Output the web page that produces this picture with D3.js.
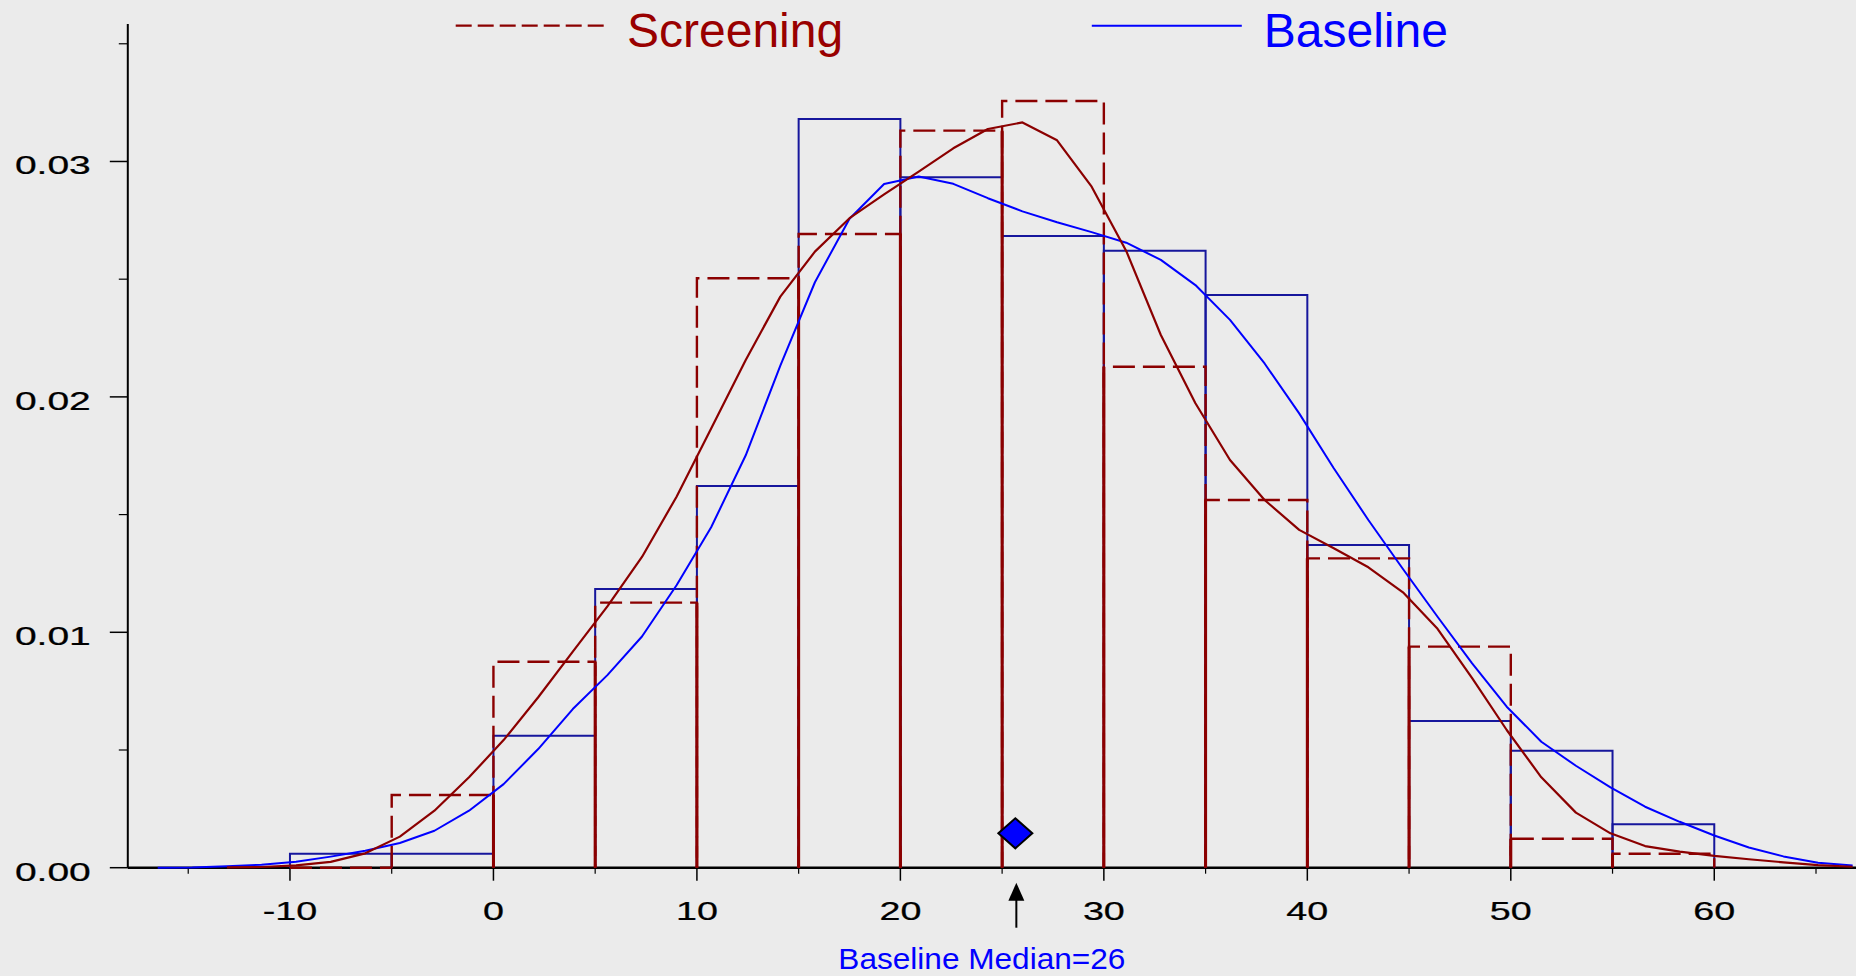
<!DOCTYPE html>
<html><head><meta charset="utf-8">
<script src="https://cdn.jsdelivr.net/npm/d3@7"></script>
<style>
body{margin:0;background:#ebebeb;}
svg{display:block;font-family:"Liberation Sans",Arial,Helvetica,sans-serif;}
</style>
</head><body>
<svg id="chart" width="1856" height="976"></svg>
<script>
// ---------------- data ----------------
const binStarts = [-10, -5, 0, 5, 10, 15, 20, 25, 30, 35, 40, 45, 50, 55];
const binWidth = 5;
const baselineHist  = [0.00059, 0.00059, 0.00561, 0.01184, 0.01621, 0.0318, 0.02933, 0.02683, 0.02621, 0.02433, 0.01371, 0.00623, 0.00497, 0.00185];
const screeningHist = [0, 0.00309, 0.00875, 0.01126, 0.02504, 0.02692, 0.03131, 0.03257, 0.02128, 0.01562, 0.01314, 0.00939, 0.00123, 0.00059];

const baselineCurveX = [-16.5,-14.8,-13.1,-11.4,-9.7,-8.0,-6.3,-4.6,-2.9,-1.2,0.5,2.2,3.9,5.6,7.3,9.0,10.7,12.4,14.1,15.8,17.5,19.2,20.9,22.6,24.3,26.0,27.7,29.4,31.1,32.8,34.5,36.2,37.9,39.6,41.3,43.0,44.7,46.4,48.1,49.8,51.5,53.2,54.9,56.6,58.3,60.0,61.7,63.4,65.1,66.8];
const baselineCurveY = [0,0.00001,0.00006,0.00013,0.00025,0.00047,0.00072,0.00105,0.00157,0.00242,0.00355,0.00504,0.00674,0.00818,0.00982,0.0120,0.01446,0.01752,0.02133,0.02487,0.02757,0.02904,0.02936,0.02905,0.02844,0.02788,0.02742,0.0270,0.02655,0.02582,0.02475,0.02327,0.02142,0.0193,0.01697,0.01477,0.01269,0.01066,0.00868,0.00684,0.00535,0.00433,0.00341,0.00259,0.00195,0.00137,0.00086,0.00048,0.00021,0.00009];

const screeningCurveX = [-13.1,-11.4,-9.7,-8.0,-6.3,-4.6,-2.9,-1.2,0.5,2.2,3.9,5.6,7.3,9.0,10.7,12.4,14.1,15.8,17.5,19.2,20.9,22.6,24.3,26.0,27.7,29.4,31.1,32.8,34.5,36.2,37.9,39.6,41.3,43.0,44.7,46.4,48.1,49.8,51.5,53.2,54.9,56.6,58.3,60.0,61.7,63.4,65.1,66.8];
const screeningCurveY = [0.00001,0.00003,0.0001,0.00025,0.00061,0.00132,0.00242,0.00384,0.00542,0.00724,0.00918,0.0111,0.0132,0.01576,0.01866,0.02157,0.02426,0.02617,0.02759,0.0286,0.02957,0.03056,0.03138,0.03166,0.0309,0.02893,0.0262,0.02263,0.01973,0.01732,0.01562,0.01435,0.01357,0.01276,0.0117,0.01015,0.00805,0.00585,0.00384,0.00234,0.00146,0.00092,0.00068,0.0005,0.00036,0.00023,0.00011,0.00004];

const xTicks = [-10, 0, 10, 20, 30, 40, 50, 60];
const xTickLabels = ["-10", "0", "10", "20", "30", "40", "50", "60"];
const xMinorTicks = [-15, -5, 5, 15, 25, 35, 45, 55, 65];
const yTicks = [0, 0.01, 0.02, 0.03];
const yTickLabels = ["0.00", "0.01", "0.02", "0.03"];
const yMinorTicks = [0.005, 0.015, 0.025, 0.035];

const seriesNames = ["Screening", "Baseline"];
const baselineMedian = 25.65;
const medianLabel = "Baseline Median=26";
const medianMarkerY = 0.00146;

// ---------------- styles ----------------
const RED = "#8b0000", RED_TXT = "#990000", NAVY = "#16169c", BLUE = "#0000ff";

const svg = d3.select("#chart");
svg.append("rect").attr("width", 1856).attr("height", 976).attr("fill", "#ebebeb");

const x = d3.scaleLinear().domain([-17.97, 67]).range([127.8, 1856.7]);
const y = d3.scaleLinear().domain([0, 0.03584]).range([867.7, 24]);

const X0 = x.range()[0], Y0 = y(0);

// ---------------- axes ----------------
const ax = svg.append("g");
ax.append("line").attr("x1", X0).attr("x2", X0).attr("y1", y.range()[1]).attr("y2", Y0)
  .attr("stroke", "#000").attr("stroke-width", 2);
ax.selectAll(".ytk").data(yTicks).enter().append("line")
  .attr("x1", X0 - 18).attr("x2", X0).attr("y1", d => y(d)).attr("y2", d => y(d))
  .attr("stroke", "#000").attr("stroke-width", 1.5);
ax.selectAll(".ymt").data(yMinorTicks).enter().append("line")
  .attr("x1", X0 - 9).attr("x2", X0).attr("y1", d => y(d)).attr("y2", d => y(d))
  .attr("stroke", "#000").attr("stroke-width", 1.2);
ax.selectAll(".ylb").data(yTicks).enter().append("text")
  .attr("transform", d => `translate(${X0 - 37},${y(d) + 13}) scale(1.5,1)`)
  .attr("text-anchor", "end").attr("font-size", 26).attr("fill", "#000")
  .attr("stroke", "#000").attr("stroke-width", 0.25)
  .text((d, i) => yTickLabels[i]);

ax.selectAll(".xtk").data(xTicks).enter().append("line")
  .attr("x1", d => x(d)).attr("x2", d => x(d)).attr("y1", Y0).attr("y2", Y0 + 13)
  .attr("stroke", "#000").attr("stroke-width", 1.5);
ax.selectAll(".xmt").data(xMinorTicks).enter().append("line")
  .attr("x1", d => x(d)).attr("x2", d => x(d)).attr("y1", Y0).attr("y2", Y0 + 6)
  .attr("stroke", "#000").attr("stroke-width", 1.2);
ax.selectAll(".xlb").data(xTicks).enter().append("text")
  .attr("transform", d => `translate(${x(d)},${Y0 + 52}) scale(1.45,1)`)
  .attr("text-anchor", "middle").attr("font-size", 26).attr("fill", "#000")
  .attr("stroke", "#000").attr("stroke-width", 0.25)
  .text((d, i) => xTickLabels[i]);
ax.append("line").attr("x1", X0).attr("x2", 1856).attr("y1", Y0).attr("y2", Y0)
  .attr("stroke", "#000").attr("stroke-width", 2.6);

// ---------------- histograms ----------------
const barPath = (s, h) => {
  const xa = x(s), xb = x(s + binWidth), yt = y(h);
  return `M${xa},${Y0} L${xa},${yt} L${xb},${yt} L${xb},${Y0}`;
};
const plot = svg.append("g");
plot.selectAll(".bb").data(binStarts).enter().append("path")
  .attr("d", (s, i) => barPath(s, baselineHist[i]))
  .attr("fill", "none").attr("stroke", NAVY).attr("stroke-width", 2);
plot.selectAll(".sb").data(binStarts).enter().append("path")
  .attr("d", (s, i) => barPath(s, screeningHist[i]))
  .attr("fill", "none").attr("stroke", RED).attr("stroke-width", 2.4)
  .attr("stroke-dasharray", "22,8");
const bounds = binStarts.slice(1).map((s, k) => ({ s, h: Math.min(screeningHist[k], screeningHist[k + 1]) }))
  .filter(d => d.h > 0);
plot.selectAll(".sbnd").data(bounds).enter().append("line")
  .attr("x1", d => x(d.s)).attr("x2", d => x(d.s)).attr("y1", Y0).attr("y2", d => y(d.h))
  .attr("stroke", RED).attr("stroke-width", 3);

// ---------------- density curves ----------------
const line = d3.line().x(d => x(d[0])).y(d => y(d[1]));
plot.append("path")
  .attr("d", line(baselineCurveX.map((v, i) => [v, baselineCurveY[i]])))
  .attr("fill", "none").attr("stroke", BLUE).attr("stroke-width", 2).attr("stroke-linejoin", "round");
plot.append("path")
  .attr("d", line(screeningCurveX.map((v, i) => [v, screeningCurveY[i]])))
  .attr("fill", "none").attr("stroke", RED).attr("stroke-width", 2.2).attr("stroke-linejoin", "round");

// ---------------- median marker ----------------
const mx = x(baselineMedian), my = y(medianMarkerY);
svg.append("path")
  .attr("d", `M${mx - 17},${my} L${mx},${my - 15} L${mx + 17},${my} L${mx},${my + 15} Z`)
  .attr("fill", BLUE).attr("stroke", "#000").attr("stroke-width", 2);
svg.append("line").attr("x1", mx + 1).attr("x2", mx + 1).attr("y1", Y0 + 60).attr("y2", Y0 + 28)
  .attr("stroke", "#000").attr("stroke-width", 2);
svg.append("path")
  .attr("d", `M${mx + 1},${Y0 + 15} L${mx + 9},${Y0 + 33} L${mx - 7},${Y0 + 33} Z`)
  .attr("fill", "#000");
svg.append("text").attr("x", mx - 177).attr("y", 969)
  .attr("font-size", 30).attr("fill", BLUE).attr("textLength", 287).attr("lengthAdjust", "spacingAndGlyphs")
  .text(medianLabel);

// ---------------- legend ----------------
const lg = svg.append("g");
lg.append("line").attr("x1", 455.7).attr("x2", 603.7).attr("y1", 25.7).attr("y2", 25.7)
  .attr("stroke", RED).attr("stroke-width", 2.3).attr("stroke-dasharray", "16,6");
lg.append("text").attr("x", 627).attr("y", 46.5).attr("font-size", 48).attr("fill", RED_TXT)
  .text(seriesNames[0]);
lg.append("line").attr("x1", 1091.8).attr("x2", 1241.8).attr("y1", 25.7).attr("y2", 25.7)
  .attr("stroke", BLUE).attr("stroke-width", 2);
lg.append("text").attr("x", 1263.8).attr("y", 46.5).attr("font-size", 48).attr("fill", BLUE)
  .text(seriesNames[1]);
</script>
</body></html>
